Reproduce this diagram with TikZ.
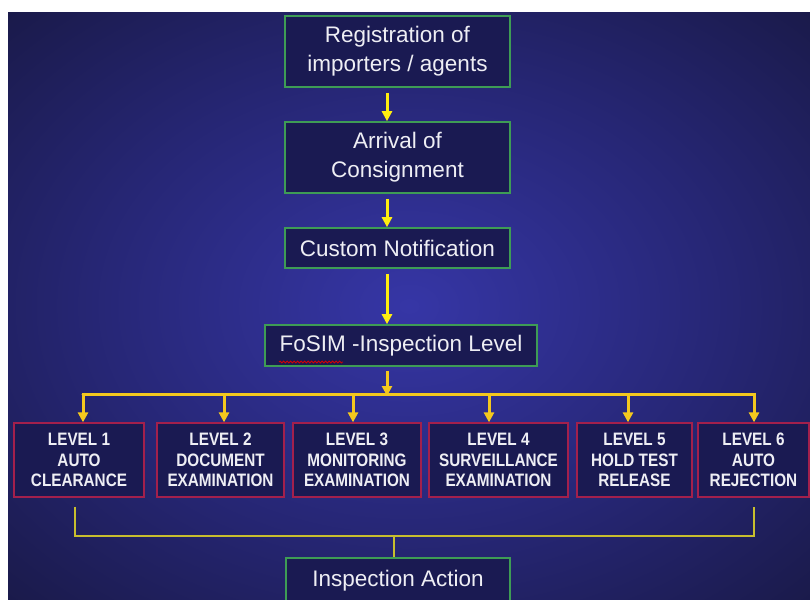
\documentclass[tikz,border=0pt]{standalone}
\usepackage{fontspec}
\setmainfont{Liberation Sans}
\newfontfamily\levelfont[FakeStretch=0.85]{Liberation Sans}
\usetikzlibrary{arrows.meta,decorations.pathmorphing}

\definecolor{bgin}{HTML}{3636A6}
\definecolor{bgmid}{HTML}{262674}
\definecolor{bgout}{HTML}{12122E}
\definecolor{boxfill}{HTML}{1A1A52}
\definecolor{boxgreen}{HTML}{3E9C55}
\definecolor{boxred}{HTML}{A3204C}
\definecolor{flowyellow}{HTML}{FFEE10}
\definecolor{bargold}{HTML}{F4C81E}
\definecolor{linkolive}{HTML}{C8BE2E}
\definecolor{labelwhite}{HTML}{EEEEF4}
\pgfdeclareradialshading{slidebg}{\pgfpoint{0bp}{0bp}}{color(0bp)=(bgin); color(20bp)=(bgmid); color(46bp)=(bgout); color(100bp)=(bgout)}

\tikzset{
  stepbox/.style={draw=boxgreen, line width=1.6pt, fill=boxfill, text=labelwhite,
    font=\fontsize{22.5}{29}\selectfont, align=center, inner sep=0pt},
  levelbox/.style={draw=boxred, line width=1.3pt, fill=boxfill, text=labelwhite,
    font=\levelfont\bfseries\fontsize{18}{20.5}\selectfont, align=center,
    minimum height=74pt, inner sep=0pt},
  flow/.style={draw=flowyellow, line width=3pt, -{Triangle[width=10pt,length=10pt]}},
  link/.style={draw=linkolive, line width=1.4pt},
}

\begin{document}
\begin{tikzpicture}[x=1pt,y=-1pt]
    \useasboundingbox (0,0) rectangle (810,599);
    \clip (0,0) rectangle (810,599);
    \shade[shading=slidebg] (8,13) rectangle (810,599);

    \node[stepbox, minimum width=225pt, minimum height=71pt] (reg) at (397.5,51.5) {Registration of\\importers / agents};
    \node[stepbox, minimum width=225pt, minimum height=71pt] (arr) at (397.5,157.5) {Arrival of\\Consignment};
    \node[stepbox, minimum width=225pt, minimum height=40pt] (cus) at (397.5,248) {Custom Notification};
    \node[stepbox, minimum width=272pt, minimum height=41pt] (fos) at (401,345.5) {FoSIM -Inspection Level};
    \node[stepbox, minimum width=224pt, minimum height=46pt] (act) at (398,581) {Inspection Action};
    \draw[red!85!black, line width=0.8pt, decorate, decoration={snake, amplitude=1pt, segment length=3.5pt}] (279,362) -- (343,362);

    \foreach \n/\x/\w/\txt in {1/79/130/{LEVEL 1\\AUTO\\CLEARANCE},
                             2/220.5/127/{LEVEL 2\\DOCUMENT\\EXAMINATION},
                             3/357/128/{LEVEL 3\\MONITORING\\EXAMINATION},
                             4/498.5/139/{LEVEL 4\\SURVEILLANCE\\EXAMINATION},
                             5/634.5/115/{LEVEL 5\\HOLD TEST\\RELEASE},
                             6/753.5/111/{LEVEL 6\\AUTO\\REJECTION}}
        \node[levelbox, minimum width=\w pt] (lvl\n) at (\x,460) {\txt};

    \coordinate (spine) at (387,394);
    \coordinate (merge) at (394,536);

    \draw[flow, shorten <=5pt] (reg.south -| spine) -- (arr.north -| spine);
    \draw[flow, shorten <=5pt] (arr.south -| spine) -- (cus.north -| spine);
    \draw[flow, shorten <=5pt] (cus.south -| spine) -- (fos.north -| spine);
    \draw[flow, draw=bargold, shorten <=4pt, shorten >=-2pt] (fos.south -| spine) -- (spine);
    \draw[flow, draw=bargold, -, line cap=round] (83,394) -- (754,394);
    \foreach \n/\dx in {1/83,2/224,3/353,4/489,5/628,6/754}
        \draw[flow, draw=bargold, shorten <=-1.5pt] (\dx,394) -- (lvl\n.north -| \dx,0);

    \draw[link, shorten <=9pt, shorten >=9pt] (lvl1.south -| 75,0) |- (merge) -| (lvl6.south -| 754,0);
    \draw[link] (merge) -- (act.north -| merge);
\end{tikzpicture}
\end{document}
